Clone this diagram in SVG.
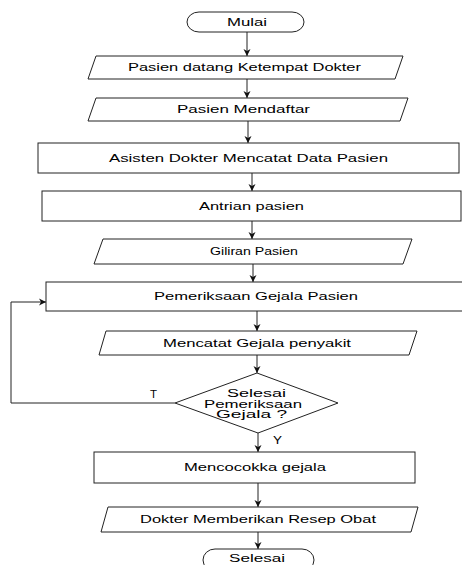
<svg xmlns="http://www.w3.org/2000/svg" width="462" height="565" viewBox="0 0 462 565">
<style>
.s{fill:#fff;stroke:#222;stroke-width:1}
.t{font-family:"Liberation Sans",Arial,sans-serif;font-size:10px;fill:#000;text-anchor:start}
.c{fill:none;stroke:#222;stroke-width:1}
</style>
<defs>
<marker id="a" markerWidth="8" markerHeight="8" refX="7" refY="4" orient="auto" markerUnits="userSpaceOnUse">
<path d="M0,0.5 L7,4 L0,7.5 L2,4 Z" fill="#111"/>
</marker>
</defs>
<rect width="462" height="565" fill="#fff"/>
<g id="connectors">
<line class="c" x1="247" y1="32" x2="247" y2="56" marker-end="url(#a)"/>
<line class="c" x1="247" y1="79" x2="247" y2="98" marker-end="url(#a)"/>
<line class="c" x1="248" y1="121" x2="248" y2="143" marker-end="url(#a)"/>
<line class="c" x1="252" y1="173" x2="252" y2="191" marker-end="url(#a)"/>
<line class="c" x1="252" y1="221" x2="252" y2="239" marker-end="url(#a)"/>
<line class="c" x1="253" y1="264" x2="253" y2="282" marker-end="url(#a)"/>
<line class="c" x1="257" y1="311" x2="257" y2="331" marker-end="url(#a)"/>
<line class="c" x1="257" y1="355" x2="257" y2="373" marker-end="url(#a)"/>
<line class="c" x1="258" y1="433" x2="258" y2="452" marker-end="url(#a)"/>
<line class="c" x1="258" y1="483" x2="258" y2="507" marker-end="url(#a)"/>
<line class="c" x1="258" y1="532" x2="258" y2="549" marker-end="url(#a)"/>
<polyline class="c" points="175,403 11,403 11,302 46,302" marker-end="url(#a)"/>
<text class="t" x="150" y="398" textLength="7" lengthAdjust="spacingAndGlyphs">T</text>
<text class="t" x="273" y="444" textLength="9" lengthAdjust="spacingAndGlyphs">Y</text>
</g>
<g id="mulai">
<rect class="s" x="187" y="12" width="117" height="20" rx="12" ry="10"/>
<text class="t" x="227" y="26" textLength="40" lengthAdjust="spacingAndGlyphs">Mulai</text>
</g>
<g id="datang">
<polygon class="s" points="96,56 403,56 395,79 88,79"/>
<text class="t" x="128" y="71" textLength="233" lengthAdjust="spacingAndGlyphs">Pasien datang Ketempat Dokter</text>
</g>
<g id="mendaftar">
<polygon class="s" points="96,98 408,98 400,121 88,121"/>
<text class="t" x="177" y="113" textLength="133" lengthAdjust="spacingAndGlyphs">Pasien Mendaftar</text>
</g>
<g id="asisten">
<rect class="s" x="38" y="143" width="421" height="30"/>
<text class="t" x="109" y="161.5" textLength="279" lengthAdjust="spacingAndGlyphs">Asisten Dokter Mencatat Data Pasien</text>
</g>
<g id="antrian">
<rect class="s" x="42" y="191" width="419" height="30"/>
<text class="t" x="199" y="209.5" textLength="105" lengthAdjust="spacingAndGlyphs">Antrian pasien</text>
</g>
<g id="giliran">
<polygon class="s" points="103,239 412,239 403,264 94,264"/>
<text class="t" x="210" y="255" textLength="88" lengthAdjust="spacingAndGlyphs">Giliran Pasien</text>
</g>
<g id="pemeriksaan">
<rect class="s" x="46" y="282" width="430" height="29"/>
<text class="t" x="154" y="300" textLength="204" lengthAdjust="spacingAndGlyphs">Pemeriksaan Gejala Pasien</text>
</g>
<g id="mencatat">
<polygon class="s" points="106,331 417,331 409,355 99,355"/>
<text class="t" x="163" y="346.5" textLength="188" lengthAdjust="spacingAndGlyphs">Mencatat Gejala penyakit</text>
</g>
<g id="selesai-periksa">
<polygon class="s" points="257,373 338,403 258,433 175,403"/>
<text class="t" x="227" y="397" textLength="59" lengthAdjust="spacingAndGlyphs">Selesai</text>
<text class="t" x="204" y="407.5" textLength="98" lengthAdjust="spacingAndGlyphs">Pemeriksaan</text>
<text class="t" x="216" y="418" textLength="71" lengthAdjust="spacingAndGlyphs">Gejala ?</text>
</g>
<g id="mencocokka">
<rect class="s" x="94" y="452" width="321" height="31"/>
<text class="t" x="184" y="471" textLength="142" lengthAdjust="spacingAndGlyphs">Mencocokka gejala</text>
</g>
<g id="resep">
<polygon class="s" points="108,507 418,507 411,532 101,532"/>
<text class="t" x="140" y="523" textLength="236" lengthAdjust="spacingAndGlyphs">Dokter Memberikan Resep Obat</text>
</g>
<g id="selesai">
<rect class="s" x="203" y="549" width="111" height="22" rx="12" ry="11"/>
<text class="t" x="229" y="562" textLength="56" lengthAdjust="spacingAndGlyphs">Selesai</text>
</g>
</svg>
